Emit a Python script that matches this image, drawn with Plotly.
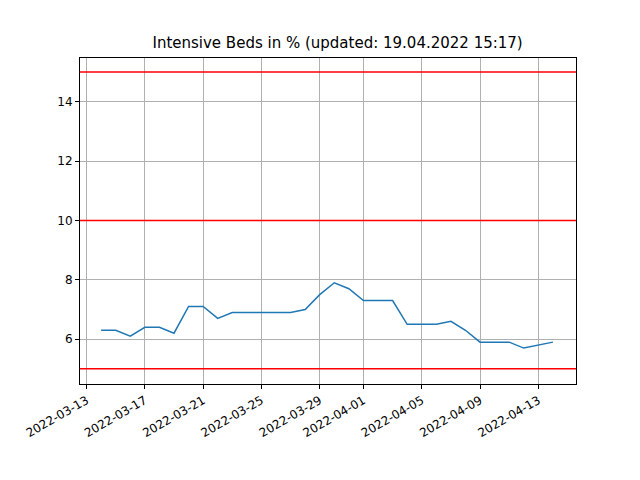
import plotly.graph_objects as go
import pandas as pd

dates = pd.date_range("2022-03-14", "2022-04-14").strftime("%Y-%m-%d").tolist()
values = [6.3, 6.3, 6.1, 6.4, 6.4, 6.2, 7.1, 7.1, 6.7, 6.9, 6.9, 6.9, 6.9, 6.9, 7.0, 7.5,
          7.9, 7.7, 7.3, 7.3, 7.3, 6.5, 6.5, 6.5, 6.6, 6.3, 5.9, 5.9, 5.9, 5.7, 5.8, 5.9]
thresholds = [5, 10, 15]
tick_dates = ["2022-03-13", "2022-03-17", "2022-03-21", "2022-03-25", "2022-03-29",
              "2022-04-01", "2022-04-05", "2022-04-09", "2022-04-13"]

fig = go.Figure()
fig.add_trace(go.Scatter(x=dates, y=values, mode="lines", line=dict(color="#1f77b4", width=1.5)))
for t in thresholds:
    fig.add_hline(y=t, line=dict(color="red", width=1.5))

axis_common = dict(showline=True, linecolor="black", linewidth=1, mirror=True, ticks="outside",
                   ticklen=4, tickcolor="black", showgrid=True, gridcolor="#b0b0b0", gridwidth=0.8,
                   zeroline=False, tickfont=dict(size=12, color="black"))
fig.update_xaxes(range=["2022-03-12 13:12", "2022-04-15 14:00"], tickvals=tick_dates,
                 ticktext=tick_dates, tickangle=-30, **axis_common)
fig.update_yaxes(range=[4.49, 15.47], tickvals=[6, 8, 10, 12, 14], **axis_common)
fig.update_layout(
    width=640, height=480, showlegend=False,
    title=dict(text="Intensive Beds in % (updated: 19.04.2022 15:17)", x=0.515, xanchor="center",
               y=0.927, yanchor="middle", font=dict(size=15, color="black")),
    font=dict(family="DejaVu Sans"),
    margin=dict(l=72, r=72, t=50, b=104),
    plot_bgcolor="white", paper_bgcolor="white",
)
fig.write_html("out.html")
